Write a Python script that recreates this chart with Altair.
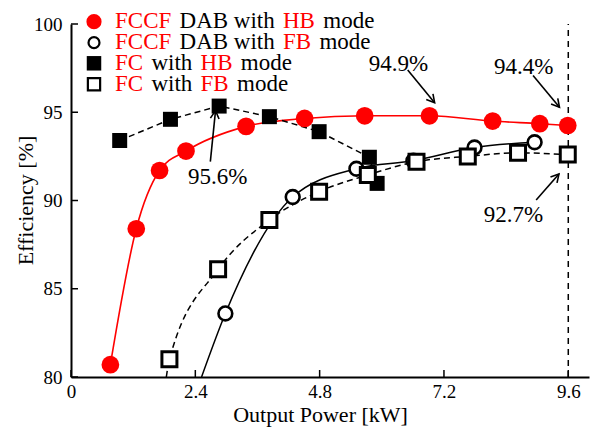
import math
import altair as alt
import pandas as pd

# ---------------- data ----------------
# FCCF DAB with HB mode (red filled circles, solid red curve)
dab_hb_x = [0.76, 1.26, 1.71, 2.22, 3.38, 4.51, 5.67, 6.92, 8.14, 9.05, 9.59]
dab_hb_y = [80.7, 88.4, 91.7, 92.8, 94.2, 94.65, 94.8, 94.8, 94.5, 94.35, 94.25]

# FCCF DAB with FB mode (open circles, solid black curve)
dab_fb_x = [2.98, 4.28, 5.51, 6.61, 7.79, 8.95]
dab_fb_y = [83.6, 90.2, 91.8, 92.25, 93.0, 93.3]
dab_fb_line_x = [2.52] + dab_fb_x          # curve enters from the x axis
dab_fb_line_y = [80.0] + dab_fb_y

# FC with HB mode (filled squares, dashed)
fc_hb_x = [0.94, 1.92, 2.86, 3.83, 4.79, 5.76, 5.91]
fc_hb_y = [93.4, 94.6, 95.35, 94.75, 93.9, 92.45, 90.97]

# FC with FB mode (open squares, dashed)
fc_fb_x = [1.90, 2.84, 3.83, 4.79, 5.73, 6.67, 7.66, 8.63, 9.59]
fc_fb_y = [81.0, 86.1, 88.9, 90.5, 91.45, 92.2, 92.5, 92.7, 92.6]
fc_fb_line_x = [1.84] + fc_fb_x
fc_fb_line_y = [80.0] + fc_fb_y

# annotations
annot_text = ["94.9%", "94.4%", "95.6%", "92.7%"]
annot_tx = [6.32, 8.74, 2.83, 8.54]
annot_ty = [97.73, 97.56, 91.33, 89.18]
arrow_x1 = [6.50, 8.92, 2.69, 8.98]
arrow_y1 = [97.39, 97.08, 92.2, 90.03]
arrow_x2 = [7.02, 9.43, 2.79, 9.42]
arrow_y2 = [95.54, 95.28, 95.09, 91.50]

vline_x = [9.6]
x_ticks = [0, 2.4, 4.8, 7.2, 9.6]
y_ticks = [80, 85, 90, 95, 100]

# legend rows: (text segment, is_red)
legend_rows = [
    [("FCCF", True), ("DAB with", False), ("HB", True), ("mode", False)],
    [("FCCF", True), ("DAB with", False), ("FB", True), ("mode", False)],
    [("FC", True), ("with", False), ("HB", True), ("mode", False)],
    [("FC", True), ("with", False), ("FB", True), ("mode", False)],
]

# ---------------- layout ----------------
W, H = 518, 353
X_DOM = [0, 10]
Y_DOM = [80, 100]
FONT = "Times New Roman, Liberation Serif, serif"
RED = "#ff0000"
LEG_FS = 23

xs = alt.Scale(domain=X_DOM, nice=False, zero=False)
ys = alt.Scale(domain=Y_DOM, nice=False, zero=False)

xaxis = alt.Axis(values=x_ticks, ticks=False, tickSize=0, grid=False,
                 labelExpr="datum.value == 0 ? '0' : format(datum.value, '.1f')",
                 labelFlush=False, labelOverlap=False, labelPadding=5,
                 labelFont=FONT, labelFontSize=19, labelColor="black",
                 domainColor="black", domainWidth=2,
                 title="Output Power [kW]", titleFont=FONT, titleFontSize=22,
                 titleFontWeight="normal", titleColor="black",
                 titleX=249, titleY=27, titleAnchor="middle")
yaxis = alt.Axis(values=y_ticks, ticks=False, tickSize=0, grid=False, format="d",
                 labelFlush=False, labelOverlap=False, labelPadding=9,
                 labelFont=FONT, labelFontSize=19, labelColor="black",
                 domainColor="black", domainWidth=2,
                 title="Efficiency [%]", titleFont=FONT, titleFontSize=22,
                 titleFontWeight="normal", titleColor="black",
                 titleX=-34, titleY=176, titleAnchor="middle")


def X(f):
    return alt.X(f, type="quantitative", scale=xs, axis=xaxis)


def Y(f):
    return alt.Y(f, type="quantitative", scale=ys, axis=yaxis)


def px2x(px):
    return X_DOM[0] + px * (X_DOM[1] - X_DOM[0]) / W


def py2y(py):
    return Y_DOM[1] - py * (Y_DOM[1] - Y_DOM[0]) / H


# Times-metric advance widths (per em) used to lay out the multi-colour legend
TW = {"F": .556, "C": .667, "D": .722, "A": .722, "B": .667, "H": .722, " ": .25,
      "w": .722, "i": .278, "t": .278, "h": .5, "m": .778, "o": .5, "d": .5, "e": .444}


def text_w(s, fs):
    return sum(TW.get(c, .5) for c in s) * fs


df_dab_hb = pd.DataFrame({"x": dab_hb_x, "y": dab_hb_y})
df_dab_fb = pd.DataFrame({"x": dab_fb_x, "y": dab_fb_y})
df_dab_fb_line = pd.DataFrame({"x": dab_fb_line_x, "y": dab_fb_line_y})
df_fc_hb = pd.DataFrame({"x": fc_hb_x, "y": fc_hb_y})
df_fc_fb = pd.DataFrame({"x": fc_fb_x, "y": fc_fb_y})
df_fc_fb_line = pd.DataFrame({"x": fc_fb_line_x, "y": fc_fb_line_y})

# vertical dashed line
vline = alt.Chart(pd.DataFrame({"x": vline_x, "y": [Y_DOM[0]], "y2": [Y_DOM[1]]})).mark_rule(
    color="black", strokeWidth=1.5, strokeDash=[6, 5]
).encode(x=X("x"), y=Y("y"), y2="y2")

# curves
red_line = alt.Chart(df_dab_hb).mark_line(color=RED, strokeWidth=1.6, interpolate="monotone", clip=True).encode(
    x=X("x"), y=Y("y"), order="x:Q")
blk_line = alt.Chart(df_dab_fb_line).mark_line(color="black", strokeWidth=1.5, interpolate="monotone", clip=True).encode(
    x=X("x"), y=Y("y"), order="x:Q")
hb_line = alt.Chart(df_fc_hb).mark_line(color="black", strokeWidth=1.5, strokeDash=[6, 4], clip=True).encode(
    x=X("x"), y=Y("y"), order="x:Q")
fb_line = alt.Chart(df_fc_fb_line).mark_line(color="black", strokeWidth=1.5, strokeDash=[6, 4],
                                             interpolate="monotone", clip=True).encode(
    x=X("x"), y=Y("y"), order="x:Q")

# markers
red_pts = alt.Chart(df_dab_hb).mark_point(shape="circle", filled=True, fill=RED, strokeWidth=0,
                                         size=314, opacity=1).encode(x=X("x"), y=Y("y"))
oc_pts = alt.Chart(df_dab_fb).mark_point(shape="circle", filled=True, fill="white", stroke="black",
                                        strokeWidth=2.6, size=190, opacity=1).encode(x=X("x"), y=Y("y"))
fs_pts = alt.Chart(df_fc_hb).mark_point(shape="square", filled=True, fill="black", strokeWidth=0,
                                       size=225, opacity=1).encode(x=X("x"), y=Y("y"))
os_pts = alt.Chart(df_fc_fb).mark_point(shape="square", filled=True, fill="white", stroke="black",
                                       strokeWidth=3, size=225, opacity=1).encode(x=X("x"), y=Y("y"))


# annotation arrows
def ang(x1, y1, x2, y2):
    dxp = (x2 - x1) * W / (X_DOM[1] - X_DOM[0])
    dyp = -(y2 - y1) * H / (Y_DOM[1] - Y_DOM[0])
    return math.degrees(math.atan2(dxp, -dyp)) % 360


df_arrow = pd.DataFrame({
    "x": arrow_x1, "y": arrow_y1, "x2": arrow_x2, "y2": arrow_y2,
    "ang": [ang(a, b, c, d) for a, b, c, d in zip(arrow_x1, arrow_y1, arrow_x2, arrow_y2)],
})
arrow_shaft = alt.Chart(df_arrow).mark_rule(color="black", strokeWidth=1.6).encode(
    x=X("x"), y=Y("y"), x2="x2", y2="y2")
arrow_head = alt.Chart(df_arrow).mark_point(
    shape="M -0.55 1 L 0 0 L 0.55 1", filled=False, stroke="black", strokeWidth=1.6,
    size=250, opacity=1
).encode(x=X("x2"), y=Y("y2"), angle=alt.Angle("ang:Q", scale=None))

annot = alt.Chart(pd.DataFrame({"t": annot_text, "x": annot_tx, "y": annot_ty})).mark_text(
    font=FONT, fontSize=23, color="black", align="center", baseline="middle"
).encode(x=X("x"), y=Y("y"), text="t:N")

# manual legend (pixel layout converted to data space)
leg_marker_px = 23
leg_marker_py = [-2.3, 18.7, 39.3, 60.3]
leg_base_py = [3.5, 24.5, 45.5, 66.5]
leg_text_px0 = 44
gap = 0.36 * LEG_FS

rows = []
for r, segs in enumerate(legend_rows):
    px = leg_text_px0
    for s, is_red in segs:
        rows.append({"t": s, "x": px2x(px), "y": py2y(leg_base_py[r]),
                     "c": RED if is_red else "black"})
        px += text_w(s, LEG_FS) + gap
df_leg = pd.DataFrame(rows)
leg_text = alt.Chart(df_leg).mark_text(font=FONT, fontSize=LEG_FS, align="left", baseline="alphabetic").encode(
    x=X("x"), y=Y("y"), text="t:N", color=alt.Color("c:N", scale=None))


def leg_df(i):
    return pd.DataFrame({"x": [px2x(leg_marker_px)], "y": [py2y(leg_marker_py[i])]})


leg_m1 = alt.Chart(leg_df(0)).mark_point(shape="circle", filled=True, fill=RED, strokeWidth=0,
                                        size=230, opacity=1).encode(x=X("x"), y=Y("y"))
leg_m2 = alt.Chart(leg_df(1)).mark_point(shape="circle", filled=True, fill="white", stroke="black",
                                        strokeWidth=2.2, size=120, opacity=1).encode(x=X("x"), y=Y("y"))
leg_m3 = alt.Chart(leg_df(2)).mark_point(shape="square", filled=True, fill="black", strokeWidth=0,
                                        size=210, opacity=1).encode(x=X("x"), y=Y("y"))
leg_m4 = alt.Chart(leg_df(3)).mark_point(shape="square", filled=True, fill="white", stroke="black",
                                        strokeWidth=2.2, size=150, opacity=1).encode(x=X("x"), y=Y("y"))

# inward tick marks
xt = alt.Chart(pd.DataFrame({"x": x_ticks})).mark_rule(color="black", strokeWidth=1.5).encode(
    x=X("x"), y=alt.value(H), y2=alt.value(H - 7))
yt = alt.Chart(pd.DataFrame({"y": y_ticks})).mark_rule(color="black", strokeWidth=1.5).encode(
    y=Y("y"), x=alt.value(0), x2=alt.value(7))

chart = alt.layer(
    vline, red_line, blk_line, hb_line, fb_line,
    red_pts, oc_pts, fs_pts, os_pts,
    arrow_shaft, arrow_head, annot,
    leg_m1, leg_m2, leg_m3, leg_m4, leg_text,
    xt, yt,
).properties(
    width=W, height=H,
    padding={"left": 71, "top": 24, "right": 10, "bottom": 51},
    autosize=alt.AutoSizeParams(type="none"),
    background="white",
).configure_view(stroke=None)

chart.save("out.html", embed_options={"renderer": "svg", "actions": False})
